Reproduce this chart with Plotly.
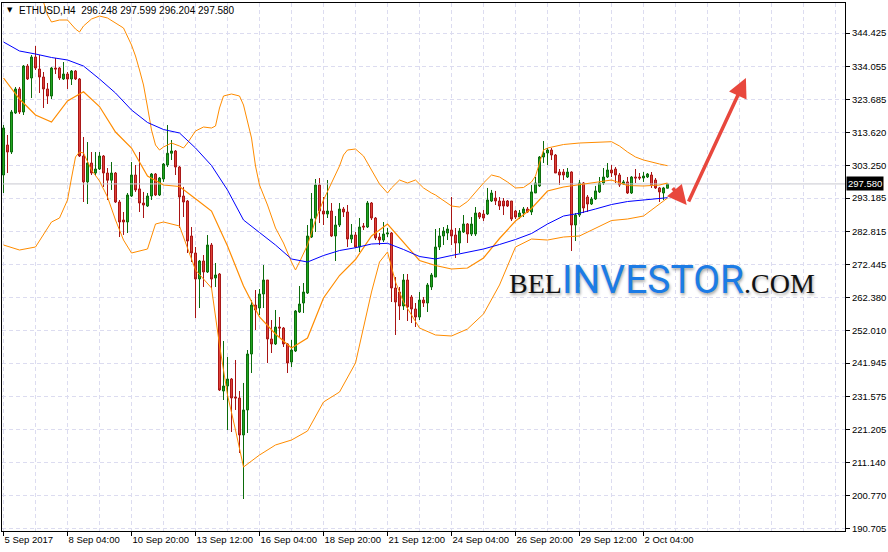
import plotly.graph_objects as go

# ---------------- data ----------------
open_ = [300.35, 309.66, 307.49, 319.60, 327.05, 319.91, 334.18, 330.46, 336.98, 333.25,
         330.77, 327.05, 324.87, 333.56, 333.56, 330.15, 331.70, 330.15, 332.63, 330.15,
         306.25, 298.20, 304.07, 300.97, 302.21, 306.25, 300.97, 298.73, 300.97, 291.97,
         286.38, 285.76, 293.83, 300.35, 296.02, 291.66, 290.73, 293.83, 300.66, 294.14,
         299.11, 303.45, 307.10, 307.80, 302.83, 293.83, 292.28, 281.42, 276.14, 268.07,
         273.66, 270.24, 278.62, 268.38, 269.62, 233.30, 234.85, 237.03, 231.44, 231.13,
         219.65, 227.41, 244.79, 260.00, 259.07, 263.41, 267.76, 249.45, 247.90, 253.17,
         252.86, 247.90, 242.30, 245.72, 257.83, 260.62, 263.72, 281.10, 287.00, 297.25,
         289.17, 288.24, 289.17, 281.42, 284.83, 289.79, 288.87, 280.48, 281.73, 278.00,
         284.52, 284.21, 291.66, 287.00, 281.10, 280.17, 282.04, 282.35, 265.28, 264.03,
         259.69, 267.76, 262.48, 258.76, 256.27, 261.55, 260.62, 265.59, 268.69, 278.00,
         281.42, 282.35, 283.28, 281.73, 279.24, 282.66, 285.14, 282.04, 282.04, 288.55,
         288.24, 288.24, 292.28, 293.21, 292.28, 292.28, 292.28, 292.28, 289.17, 287.31,
         288.55, 289.79, 288.87, 294.76, 296.96, 305.94, 307.18, 308.11, 306.56, 301.28,
         301.28, 299.73, 301.28, 284.83, 287.93, 297.87, 293.52, 291.35, 292.90, 295.09,
         297.87, 299.73, 301.90, 302.21, 300.35, 297.56, 298.20, 294.76, 299.73, 299.73,
         299.42, 299.73, 300.35, 298.80, 296.33, 294.76, 296.248]
high_ = [315.87, 312.77, 320.53, 327.67, 327.67, 334.49, 334.80, 337.60, 340.39, 337.60,
         332.32, 328.91, 333.87, 336.67, 333.87, 335.42, 332.32, 332.94, 332.94, 330.46,
         312.15, 310.59, 307.49, 307.49, 307.49, 306.56, 302.52, 304.38, 301.28, 292.59,
         288.87, 294.76, 304.38, 303.45, 307.49, 295.09, 294.76, 300.97, 300.97, 299.73,
         304.07, 315.87, 311.21, 308.11, 303.14, 296.65, 292.59, 284.21, 278.00, 273.97,
         275.52, 281.73, 279.24, 273.04, 269.93, 248.82, 243.85, 237.34, 242.93, 233.30,
         235.80, 246.03, 261.55, 264.65, 264.96, 272.41, 267.76, 255.34, 258.45, 256.27,
         253.17, 248.20, 249.14, 258.45, 265.90, 266.83, 284.83, 294.76, 299.11, 299.42,
         293.52, 298.80, 291.66, 287.62, 291.66, 290.42, 291.04, 285.14, 282.66, 287.00,
         285.45, 292.28, 291.97, 287.31, 282.35, 285.76, 283.90, 282.66, 268.69, 265.59,
         269.62, 269.62, 263.10, 260.62, 264.03, 262.48, 266.83, 269.93, 283.59, 283.90,
         284.21, 284.83, 293.52, 283.90, 283.90, 287.93, 285.45, 287.31, 290.42, 288.87,
         289.49, 296.33, 295.71, 295.40, 293.52, 293.21, 292.59, 292.28, 289.49, 289.49,
         290.42, 290.42, 297.25, 299.73, 306.25, 310.90, 308.73, 308.73, 306.87, 302.21,
         302.21, 302.52, 301.50, 288.55, 298.80, 298.18, 294.14, 293.52, 296.96, 299.73,
         302.52, 304.07, 303.45, 302.83, 300.97, 298.80, 299.73, 300.04, 302.21, 300.97,
         301.28, 300.97, 301.28, 299.42, 296.65, 296.65, 297.599]
low_ = [294.76, 300.97, 306.87, 319.29, 319.29, 318.97, 329.84, 324.25, 332.94, 325.80,
        321.15, 322.39, 323.94, 331.70, 329.84, 329.84, 327.05, 328.29, 329.84, 305.94,
        291.97, 291.35, 300.35, 300.35, 301.90, 296.65, 292.59, 295.71, 291.66, 281.10,
        281.73, 282.35, 293.52, 295.09, 288.87, 287.00, 290.42, 292.59, 293.83, 293.83,
        298.20, 302.83, 305.00, 300.35, 283.90, 287.31, 276.14, 273.34, 255.96, 259.06,
        265.59, 269.93, 265.28, 265.59, 233.30, 230.51, 221.20, 220.58, 227.41, 214.06,
        199.78, 220.27, 238.89, 252.24, 256.89, 259.07, 241.99, 245.10, 247.58, 249.76,
        246.96, 238.89, 240.75, 245.41, 257.52, 257.52, 263.41, 280.79, 282.66, 285.45,
        284.83, 287.00, 281.10, 273.66, 284.21, 287.31, 278.00, 279.24, 277.69, 276.45,
        283.28, 283.90, 286.38, 280.17, 278.62, 279.55, 281.10, 260.93, 250.69, 255.34,
        258.45, 255.03, 254.41, 253.17, 255.34, 259.38, 257.83, 264.65, 268.69, 277.07,
        278.62, 280.17, 278.62, 274.59, 276.14, 282.35, 279.24, 281.42, 281.42, 286.69,
        286.07, 287.93, 291.97, 291.04, 289.49, 287.93, 290.42, 286.07, 286.69, 286.69,
        287.31, 288.55, 287.93, 294.76, 296.65, 304.07, 303.45, 305.00, 300.97, 297.25,
        298.80, 299.42, 276.76, 279.86, 287.31, 288.55, 288.87, 291.04, 292.59, 294.76,
        297.25, 299.42, 299.73, 297.87, 296.65, 297.25, 294.45, 294.45, 297.87, 298.80,
        298.20, 299.42, 296.33, 296.02, 291.97, 292.59, 296.204]
close_ = [314.94, 307.49, 319.91, 327.05, 319.91, 334.18, 330.15, 336.98, 333.56, 330.77,
          327.05, 324.87, 333.56, 333.25, 330.46, 331.70, 330.15, 332.63, 330.15, 306.25,
          298.20, 304.07, 300.97, 302.21, 306.25, 300.97, 298.73, 300.97, 291.97, 285.76,
          285.76, 294.14, 300.35, 295.71, 291.66, 291.04, 293.83, 300.66, 294.14, 299.42,
          303.76, 307.10, 307.80, 302.83, 293.52, 291.97, 279.86, 276.14, 268.07, 273.66,
          270.24, 278.62, 268.07, 269.31, 233.61, 234.85, 237.03, 231.13, 231.13, 219.65,
          227.41, 244.79, 260.00, 258.45, 263.41, 267.76, 249.45, 247.90, 253.17, 252.86,
          247.90, 241.99, 246.03, 258.14, 260.31, 264.03, 281.42, 286.69, 297.25, 289.17,
          288.24, 289.17, 281.42, 284.83, 289.79, 288.87, 280.48, 281.73, 278.00, 284.21,
          284.21, 291.66, 287.00, 280.79, 280.17, 282.04, 282.35, 265.28, 260.93, 259.69,
          267.76, 259.38, 258.76, 256.27, 261.55, 260.62, 266.21, 269.31, 278.00, 281.42,
          282.97, 283.59, 281.42, 279.24, 282.97, 285.14, 282.04, 285.14, 288.55, 287.31,
          287.00, 292.59, 294.76, 292.28, 290.73, 290.73, 290.73, 286.69, 287.31, 288.55,
          289.79, 288.87, 295.09, 297.87, 305.94, 307.18, 308.11, 306.56, 300.97, 300.35,
          300.35, 301.28, 284.83, 287.93, 297.87, 290.11, 291.35, 292.90, 295.40, 297.87,
          299.73, 301.90, 300.97, 300.35, 297.25, 298.20, 294.76, 299.73, 299.42, 299.42,
          300.04, 300.66, 297.25, 296.33, 295.09, 296.33, 297.580]

# moving average (blue) and Bollinger middle band, sampled every 4 bars
ind_bar = list(range(0, 165, 4)) + [166]
ma_vals = [341.63, 338.84, 337.91, 336.82, 336.05, 334.18, 330.15, 325.80, 320.53, 316.65,
           314.47, 313.39, 308.73, 303.30, 295.69, 286.38, 282.50, 278.62, 274.28, 273.34,
           275.36, 276.91, 277.78, 278.93, 279.15, 277.23, 275.05, 274.28, 275.36, 276.35,
           277.38, 278.78, 280.33, 282.19, 285.14, 287.62, 288.49, 289.80, 291.19, 292.12,
           292.59, 293.12, 293.31]
mid_vals = [330.46, 323.94, 318.98, 316.80, 323.32, 326.20, 321.60, 313.70, 308.73, 300.04,
            297.25, 296.78, 293.00, 289.17, 278.31, 265.90, 256.27, 250.99, 246.65, 249.76,
            262.17, 269.15, 274.12, 281.41, 285.14, 279.40, 273.81, 272.26, 271.17, 271.48,
            274.59, 280.64, 286.07, 289.95, 295.38, 296.63, 297.40, 298.18, 298.80, 297.09,
            296.94, 297.25, 297.87]

upper_bar = [0, 4, 8, 10, 11, 12, 14, 16, 18, 19, 20, 22, 24, 26, 28, 30, 32, 33, 34, 35,
             36, 37, 38, 39, 40, 42, 44, 45, 46, 48, 50, 52, 53, 54, 55, 57, 59, 60, 62, 63,
             64, 66, 68, 70, 72, 73, 74, 76, 78, 80, 82, 84, 85, 86, 88, 90, 92, 94, 96, 97,
             99, 101, 103, 105, 107, 108, 112, 114, 116, 120, 122, 124, 126, 128, 130, 132, 133, 134, 135, 136,
             140, 144, 148, 152, 154, 156, 158, 160, 164, 166]
upper_vals = [362.43, 359.33, 356.22, 354.05, 350.01, 347.84, 348.46, 348.46, 345.67, 344.74,
              346.60, 348.77, 349.70, 349.08, 347.53, 345.98, 340.70, 337.29, 332.94, 328.29,
              321.46, 314.32, 309.66, 308.11, 309.04, 310.28, 309.35, 308.73, 310.28, 314.01,
              315.25, 314.94, 315.56, 321.15, 324.87, 325.49, 324.87, 322.08, 311.84, 303.14,
              297.25, 291.04, 283.90, 279.24, 273.34, 270.86, 273.34, 278.62, 286.38, 292.59,
              297.87, 303.14, 306.56, 308.11, 308.42, 306.25, 301.90, 297.56, 294.76, 296.33,
              298.80, 297.87, 298.80, 296.33, 294.76, 294.14, 290.73, 290.42, 292.13, 297.87,
              300.35, 299.73, 298.18, 296.33, 296.47, 298.18, 300.04, 304.38, 308.11, 308.73,
              309.82, 310.28, 310.50, 310.69, 309.35, 307.49, 305.94, 305.01, 303.77, 303.24]

lower_bar = [0, 4, 8, 12, 14, 16, 17, 18, 19, 20, 22, 24, 26, 28, 30, 32, 36, 38, 40, 44,
             48, 52, 54, 56, 58, 60, 64, 68, 72, 76, 80, 84, 88, 92, 94, 96, 98, 100, 104, 108,
             112, 116, 120, 124, 128, 132, 136, 140, 144, 148, 152, 156, 160, 164, 166]
lower_vals = [278.62, 277.07, 278.00, 285.76, 287.00, 292.59, 299.42, 305.94, 307.49, 307.18,
              301.90, 298.49, 293.52, 286.38, 280.17, 276.14, 277.38, 285.14, 285.76, 284.52,
              270.86, 265.28, 247.58, 232.06, 221.20, 209.71, 213.44, 216.55, 218.09, 220.89,
              229.89, 232.99, 241.99, 264.03, 273.34, 276.45, 267.14, 260.93, 252.86, 250.69,
              250.38, 252.55, 257.21, 266.21, 278.00, 280.48, 280.17, 281.10, 281.42, 283.90,
              286.23, 286.69, 287.62, 291.35, 293.21]

price_ticks = [190.705, 200.770, 211.140, 221.205, 231.575, 241.945, 252.010, 262.380,
               272.445, 282.815, 293.185, 303.250, 313.620, 323.685, 334.055, 344.425]
date_tick_bars = [0, 16, 32, 48, 64, 80, 96, 112, 128, 144, 160]
date_labels = ["5 Sep 2017", "8 Sep 04:00", "10 Sep 20:00", "13 Sep 12:00", "16 Sep 04:00",
               "18 Sep 20:00", "21 Sep 12:00", "24 Sep 04:00", "26 Sep 20:00", "29 Sep 12:00",
               "2 Oct 04:00"]
last_price = 297.580
title_text = "ETHUSD,H4  296.248 297.599 296.204 297.580"

# arrows drawn on the chart (bar index, price)
arrow1_tail = (167.0, 296.73)
arrow1_head = (170.8, 291.04)
arrow2_tail = (171.1, 291.66)
arrow2_head = (185.6, 330.46)

# ---------------- figure ----------------
bars = list(range(len(open_)))
GRID = "#dcdcf0"
FONT = "Liberation Sans, Arial, sans-serif"

fig = go.Figure()

fig.add_trace(go.Scatter(x=[-1, 215], y=[last_price, last_price], mode="lines",
                         line=dict(color="#c8c8d0", width=1), hoverinfo="skip"))

fig.add_trace(go.Candlestick(
    x=bars, open=open_, high=high_, low=low_, close=close_,
    increasing=dict(line=dict(color="#0b6b0b", width=1), fillcolor="#22a822"),
    decreasing=dict(line=dict(color="#a81414", width=1), fillcolor="#e2443a"),
    whiskerwidth=0,
))

fig.add_trace(go.Scatter(x=upper_bar, y=upper_vals, mode="lines",
                         line=dict(color="#ff8c00", width=1), hoverinfo="skip"))
fig.add_trace(go.Scatter(x=ind_bar, y=mid_vals, mode="lines",
                         line=dict(color="#ff8c00", width=1.2), hoverinfo="skip"))
fig.add_trace(go.Scatter(x=lower_bar, y=lower_vals, mode="lines",
                         line=dict(color="#ff8c00", width=1), hoverinfo="skip"))
fig.add_trace(go.Scatter(x=ind_bar, y=ma_vals, mode="lines",
                         line=dict(color="#0000ff", width=1), hoverinfo="skip"))

fig.update_layout(
    width=888, height=552, autosize=False,
    margin=dict(l=2, r=43, t=3, b=21, pad=0),
    paper_bgcolor="white", plot_bgcolor="white",
    showlegend=False,
    font=dict(family=FONT, size=9.5, color="black"),
)

fig.update_xaxes(
    range=[-0.375, 210.375], rangeslider=dict(visible=False),
    tickmode="array", tickvals=date_tick_bars, ticktext=date_labels,
    ticks="outside", ticklen=4, tickcolor="black", tickangle=0,
    ticklabelposition="outside right",
    showgrid=True, gridcolor=GRID, griddash="4px,3px", gridwidth=1,
    minor=dict(tickmode="array", tickvals=list(range(0, 211, 8)), showgrid=True,
               gridcolor=GRID, griddash="4px,3px", ticks=""),
    showline=True, linecolor="black", linewidth=1, mirror=True,
    zeroline=False, tickfont=dict(family=FONT, size=9.5, color="black"),
)
fig.update_yaxes(
    range=[189.85, 353.74], side="right",
    tickmode="array", tickvals=price_ticks, ticktext=[f"{v:.3f}" for v in price_ticks],
    ticks="outside", ticklen=4, tickcolor="black",
    showgrid=True, gridcolor=GRID, griddash="4px,3px", gridwidth=1,
    showline=True, linecolor="black", linewidth=1, mirror=True,
    zeroline=False, tickfont=dict(family=FONT, size=9.5, color="black"),
)

annotations = [
    dict(text=f"{last_price:.3f}", xref="paper", x=1.0, xshift=1, xanchor="left",
         yref="y", y=last_price, yanchor="middle", showarrow=False,
         bgcolor="black", font=dict(color="white", size=9.5, family=FONT), borderpad=1),
    dict(text="\u25bc", xref="paper", x=(10 - 2) / 843, yref="paper", y=1 - (10 - 3) / 528,
         xanchor="center", yanchor="middle", showarrow=False,
         font=dict(size=7, color="black", family="DejaVu Sans")),
    dict(text=title_text, xref="paper", x=(17 - 2) / 843, yref="paper", y=1 - (10 - 3) / 528,
         xanchor="left", yanchor="middle", showarrow=False,
         font=dict(size=10, color="black", family=FONT)),
    dict(text='<span style="font-family:Liberation Serif;font-size:28px;color:#111">BEL</span>'
              '<span style="font-family:Roboto;font-size:39px;color:#1c7ce5">INVESTOR</span>'
              '<span style="font-family:Liberation Serif;font-size:28px;color:#111">.COM</span>',
         xref="paper", x=(507 - 2) / 843, yref="paper", y=1 - (280 - 3) / 528,
         xanchor="left", yanchor="middle", showarrow=False,
         font=dict(size=28, shadow="1px 2px 3px rgba(0,0,0,0.35)")),
]
for tail, head in [(arrow1_tail, arrow1_head), (arrow2_tail, arrow2_head)]:
    annotations.append(dict(
        x=head[0], y=head[1], xref="x", yref="y",
        ax=tail[0], ay=tail[1], axref="x", ayref="y",
        text="", showarrow=True, arrowhead=2, arrowsize=1.1, arrowwidth=3.5,
        arrowcolor="#e8473d"))
fig.update_layout(annotations=annotations)

fig.write_html("out.html", config={"displayModeBar": False},
               post_script="document.body.style.margin='0px';")
